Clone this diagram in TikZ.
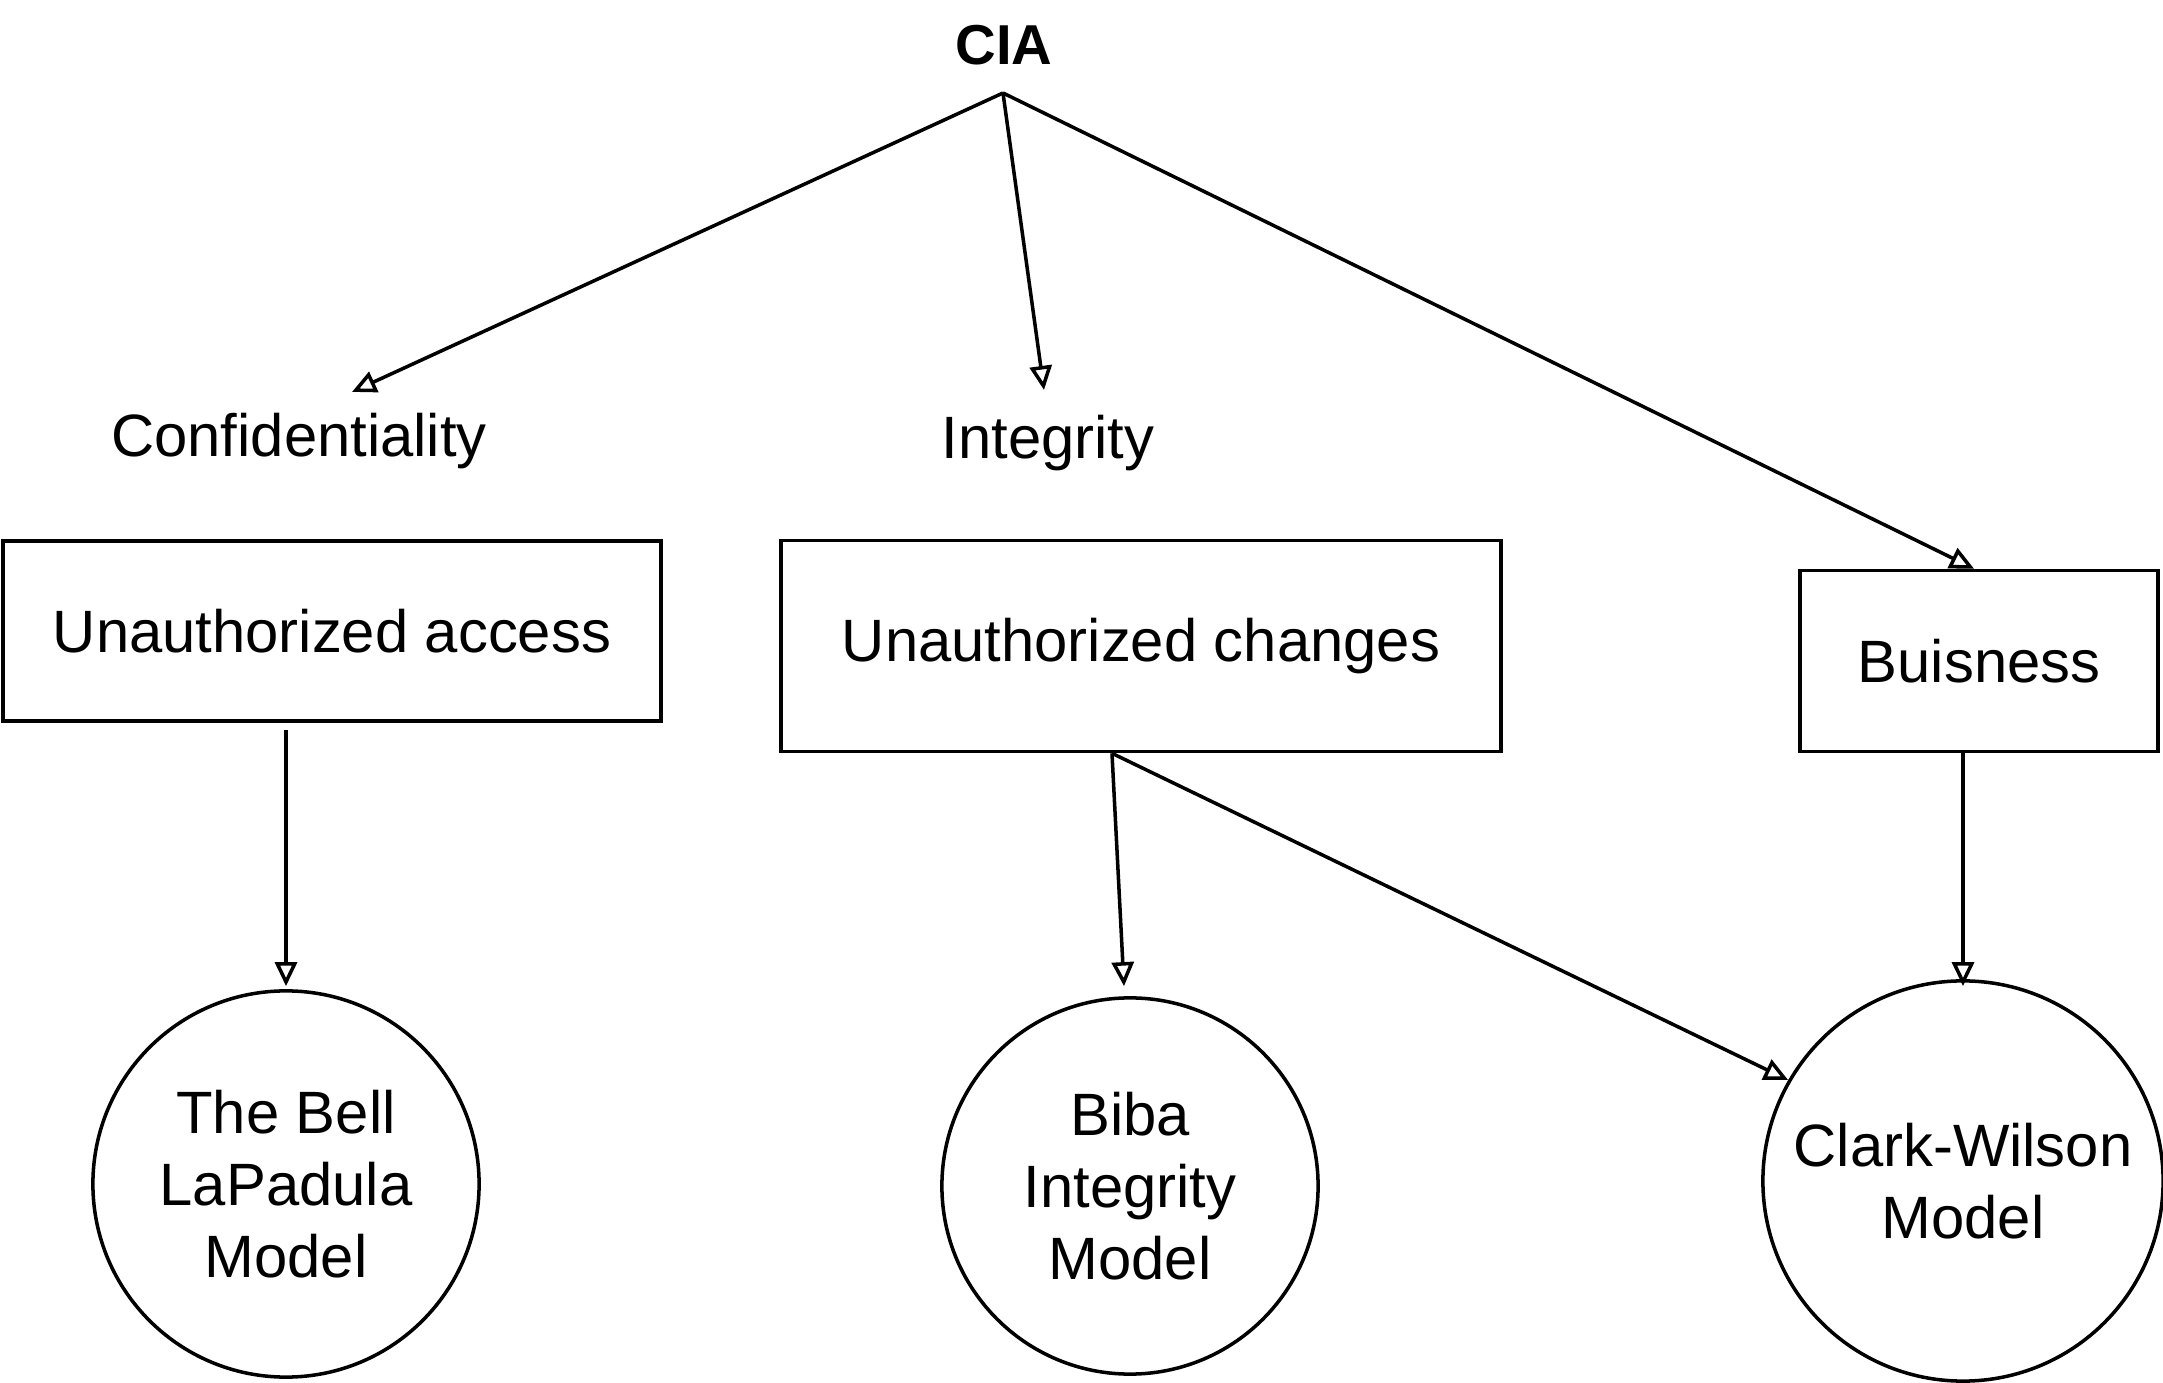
\documentclass[tikz,border=0pt]{standalone}
\usepackage{fontspec}
\setmainfont{Liberation Sans}
\usetikzlibrary{positioning,arrows.meta,calc}
\tikzset{
  ciafont/.style={font=\fontsize{17}{20.4}\selectfont},
  goallabel/.style={ciafont, inner sep=2pt},
  threatbox/.style={ciafont, draw, line width=1pt, align=center, inner sep=0pt},
  modelcircle/.style={ciafont, circle, draw, line width=1pt, align=center, inner sep=0pt},
  ciaarrow/.style={-{Triangle[open, length=2.4mm, width=2.2mm]}, line width=1pt},
}

\begin{document}
\begin{tikzpicture}[x=0.01cm, y=-0.01cm]
  \useasboundingbox (0,0) rectangle (2163,1383);
  % top level
  \node[goallabel, font=\fontsize{16}{19}\selectfont\bfseries, anchor=base] (cia) at (1004,65) {CIA};
  \coordinate (root) at (1003,93);
  \node[goallabel, anchor=base] (conf) at (299,457) {Confidentiality};
  \node[goallabel, anchor=base] (integ) at (1048,459) {Integrity};
  % threats
  \node[threatbox, minimum width=6.58cm, minimum height=1.80cm] (access) at (332,631) {Unauthorized access};
  \node[threatbox, minimum width=7.20cm, minimum height=2.11cm] (changes) at (1141,646) {Unauthorized changes};
  \node[threatbox, minimum width=3.58cm, minimum height=1.81cm] (biz) at (1979,661) {Buisness};
  \coordinate (fork) at ([xshift=-0.29cm]changes.south);
  % models
  \node[modelcircle, minimum size=3.86cm] (bell) at (286,1184) {The Bell\\LaPadula\\Model};
  \node[modelcircle, minimum size=3.76cm] (biba) at (1130,1186) {Biba\\Integrity\\Model};
  \node[modelcircle, minimum size=4.00cm] (clark) at (1963,1181) {Clark-Wilson\\Model};
  % connectors
  \draw[ciaarrow] (root) -- ([shift={(0.53cm,0.14cm)}]conf.north);
  \draw[ciaarrow] (root) -- ([shift={(-0.04cm,0.18cm)}]integ.north);
  \draw[ciaarrow] (root) -- ([xshift=-0.05cm]biz.north);
  \draw[ciaarrow] ([yshift=-0.07cm]access.south -| bell.north) -- ([yshift=0.03cm]bell.north);
  \draw[ciaarrow] (fork) -- ([shift={(-0.06cm,0.1cm)}]biba.north);
  \draw[ciaarrow] (fork) -- (clark.150);
  \draw[ciaarrow] (biz.south -| clark.north) -- ([yshift=-0.07cm]clark.north);
\end{tikzpicture}
\end{document}
